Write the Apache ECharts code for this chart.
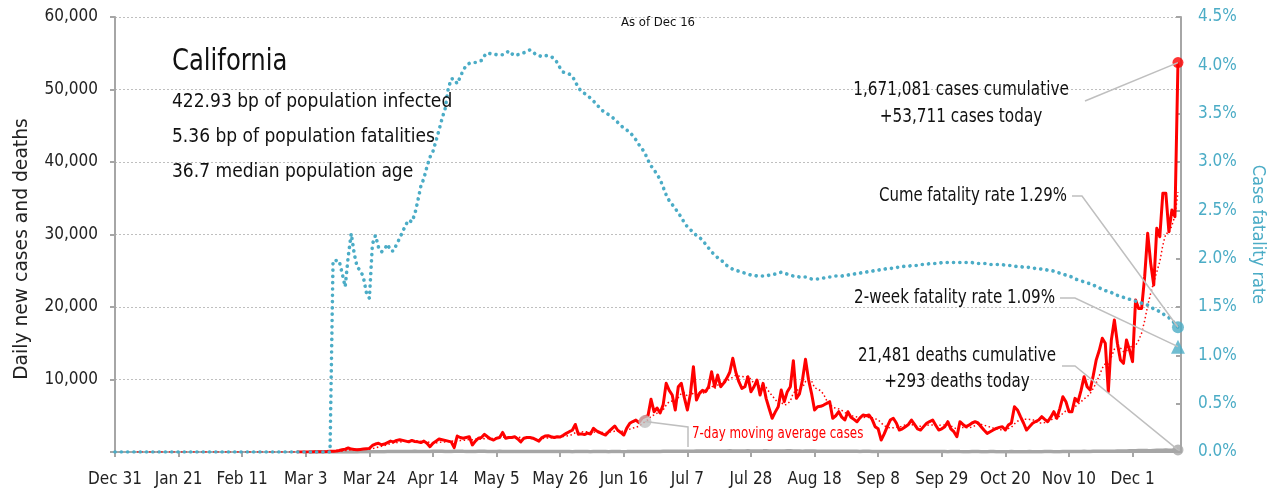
<!DOCTYPE html>
<html>
<head>
<meta charset="utf-8">
<script src="https://cdn.jsdelivr.net/npm/echarts@6/dist/echarts.min.js"></script>
<style>
  html, body { margin: 0; padding: 0; background: #fff; }
  #chart { width: 1276px; height: 493px; }
</style>
</head>
<body>
<div id="chart"></div>
<script>
// x is days since Dec 31 2019, ticks every 3 weeks
const xTickLabels = ['Dec 31', 'Jan 21', 'Feb 11', 'Mar 3', 'Mar 24', 'Apr 14', 'May 5', 'May 26', 'Jun 16',
  'Jul 7', 'Jul 28', 'Aug 18', 'Sep 8', 'Sep 29', 'Oct 20', 'Nov 10', 'Dec 1']

// daily new cases, Dec 31 .. Dec 16 (no reports before Mar 1)
const cases = [
  null, null, null, null, null, null, null, null, null, null,
  null, null, null, null, null, null, null, null, null, null,
  null, null, null, null, null, null, null, null, null, null,
  null, null, null, null, null, null, null, null, null, null,
  null, null, null, null, null, null, null, null, null, null,
  null, null, null, null, null, null, null, null, null, null,
  0, 1, 3, 5, 10, 15, 20, 30, 40, 50,
  60, 90, 120, 150, 200, 300, 400, 550, 400, 350,
  300, 350, 400, 450, 500, 900, 1100, 1200, 1000, 1100,
  1300, 1500, 1400, 1600, 1700, 1600, 1500, 1400, 1600, 1450,
  1400, 1300, 1500, 1200, 730, 1200, 1500, 1800, 1700, 1600,
  1500, 1400, 600, 2200, 2000, 1900, 2000, 2100, 970, 1500,
  1900, 2000, 2440, 2100, 1800, 1650, 1900, 2000, 2700, 1900,
  2000, 2000, 2100, 1800, 1400, 1900, 2000, 2000, 1900, 1700,
  1500, 2000, 2200, 2250, 2100, 2000, 2100, 2070, 2300, 2570,
  2800, 3000, 3800, 2440, 2500, 2400, 2600, 2480, 3270, 2900,
  2700, 2500, 2340, 2800, 3200, 3590, 3000, 2700, 2340, 3300,
  3960, 4200, 4400, 4050, 4650, 4870, 5000, 7270, 5560, 6070,
  5380, 6500, 9470, 8500, 7860, 5800, 9000, 9470, 7500, 5800,
  8000, 11760, 7170, 8090, 8500, 8320, 9000, 11070, 9000, 10620,
  9000, 9500, 10160, 11000, 12920, 11000, 9700, 8780, 9000, 10390,
  8320, 9000, 9930, 7860, 9470, 7400, 6000, 4650, 5500, 6250,
  8550, 6940, 8320, 9000, 12600, 7400, 8000, 9930, 12780, 10000,
  8090, 5800, 6250, 6300, 6480, 6700, 6940, 4650, 5000, 5560,
  4800, 4410, 5560, 4800, 4500, 4180, 4700, 5100, 5000, 5100,
  4500, 3490, 3200, 1650, 2500, 3490, 4410, 4650, 4000, 3030,
  3200, 3490, 3800, 4410, 3800, 3200, 3030, 3500, 3960, 4200,
  4410, 3700, 3030, 3200, 3490, 4180, 3200, 2800, 2110, 4180,
  3800, 3490, 3700, 4000, 4180, 4000, 3490, 3000, 2570, 2800,
  3030, 3260, 3400, 3490, 3030, 3720, 4000, 6250, 5800, 4870,
  4000, 3030, 3500, 3960, 4200, 4410, 4870, 4500, 4180, 4800,
  5560, 4650, 6020, 7630, 6940, 5560, 5560, 7400, 6940, 8500,
  10390, 9000, 8550, 10500, 12690, 14000, 15680, 15000, 8320, 15450,
  18200, 15000, 12690, 12230, 15450, 14070, 12460, 20960, 19810, 19810,
  24180, 30160, 26020, 23030, 30850, 29690, 35680, 35680, 30390, 33370,
  32450, 53711
]

// daily deaths (no reports before Mar 5)
const deaths = [
  null, null, null, null, null, null, null, null, null, null,
  null, null, null, null, null, null, null, null, null, null,
  null, null, null, null, null, null, null, null, null, null,
  null, null, null, null, null, null, null, null, null, null,
  null, null, null, null, null, null, null, null, null, null,
  null, null, null, null, null, null, null, null, null, null,
  null, null, null, null,
  0, 1, 0, 1, 1, 2, 2, 3, 2, 4,
  3, 5, 6, 8, 9, 10, 15, 20, 18, 25,
  30, 25, 35, 40, 45, 50, 55, 60, 60, 70,
  65, 55, 60, 70, 80, 90, 85, 75, 60, 70,
  80, 95, 110, 100, 90, 70, 60, 85, 95, 100,
  110, 90, 80, 70, 75, 85, 95, 100, 90, 80,
  70, 65, 80, 90, 85, 75, 70, 60, 70, 80,
  85, 80, 70, 60, 55, 70, 80, 75, 65, 60,
  55, 60, 70, 75, 65, 60, 55, 50, 60, 70,
  65, 60, 55, 50, 60, 65, 70, 60, 55, 50,
  60, 70, 65, 55, 50, 55, 65, 70, 60, 55,
  60, 70, 80, 75, 65, 70, 80, 90, 100, 95,
  90, 100, 110, 120, 115, 105, 110, 120, 130, 140,
  130, 125, 140, 150, 145, 135, 130, 140, 150, 160,
  150, 140, 135, 145, 155, 160, 150, 140, 145, 155,
  160, 170, 150, 140, 130, 135, 145, 155, 165, 160,
  150, 140, 130, 120, 135, 145, 140, 130, 120, 110,
  100, 110, 120, 115, 105, 100, 95, 100, 110, 105,
  95, 90, 85, 95, 100, 90, 80, 75, 70, 80,
  85, 80, 75, 70, 65, 75, 80, 70, 65, 60,
  65, 70, 75, 65, 60, 55, 60, 65, 70, 60,
  55, 50, 55, 60, 65, 55, 50, 45, 50, 55,
  60, 55, 50, 45, 50, 55, 60, 50, 45, 40,
  45, 50, 55, 50, 45, 40, 45, 50, 55, 50,
  45, 40, 50, 55, 60, 55, 50, 45, 50, 60,
  65, 70, 75, 70, 65, 80, 90, 85, 80, 95,
  100, 110, 100, 95, 90, 110, 120, 130, 125, 140,
  150, 160, 170, 180, 190, 200, 210, 190, 180, 220,
  230, 240, 250, 260, 240, 230, 270, 293
]

// cumulative case fatality rate, %
const cfr = [
  0, 0, 0, 0, 0, 0, 0, 0, 0, 0,
  0, 0, 0, 0, 0, 0, 0, 0, 0, 0,
  0, 0, 0, 0, 0, 0, 0, 0, 0, 0,
  0, 0, 0, 0, 0, 0, 0, 0, 0, 0,
  0, 0, 0, 0, 0, 0, 0, 0, 0, 0,
  0, 0, 0, 0, 0, 0, 0, 0, 0, 0,
  0, 0, 0, 0, 0, 0, 0, 0, 0, 0,
  0, 0,
  1.98, 1.98, 1.98, 1.85, 1.71, 2.02, 2.26, 2.05, 1.91, 1.88,
  1.81, 1.65, 1.59, 2.15, 2.24, 2.12, 2.07, 2.10, 2.15, 2.08,
  2.08, 2.15, 2.21, 2.28, 2.35, 2.40, 2.38, 2.46, 2.60, 2.75,
  2.83, 2.95, 3.05, 3.11, 3.22, 3.33, 3.45, 3.55, 3.75, 3.86,
  3.86, 3.81, 3.88, 3.95, 4.00, 4.02, 4.03, 4.03, 4.04, 4.05,
  4.10, 4.13, 4.12, 4.12, 4.11, 4.11, 4.11, 4.12, 4.15, 4.12,
  4.10, 4.11, 4.12, 4.13, 4.14, 4.16, 4.14, 4.11, 4.10, 4.09,
  4.10, 4.10, 4.09, 4.07, 4.03, 3.97, 3.93, 3.92, 3.91, 3.89,
  3.83, 3.77, 3.73, 3.71, 3.69, 3.66, 3.63, 3.60, 3.56, 3.53,
  3.51, 3.49, 3.47, 3.44, 3.41, 3.38, 3.35, 3.33, 3.31, 3.27,
  3.23, 3.18, 3.14, 3.09, 3.02, 2.96, 2.92, 2.87, 2.82, 2.74,
  2.66, 2.60, 2.56, 2.52, 2.47, 2.43, 2.37, 2.33, 2.30, 2.27,
  2.24, 2.22, 2.19, 2.15, 2.11, 2.07, 2.04, 2.01, 1.99, 1.96,
  1.93, 1.91, 1.89, 1.88, 1.87, 1.86, 1.85, 1.84, 1.83, 1.83,
  1.82, 1.82, 1.82, 1.82, 1.83, 1.84, 1.84, 1.85, 1.86, 1.85,
  1.84, 1.83, 1.82, 1.82, 1.81, 1.81, 1.81, 1.80, 1.79, 1.79,
  1.79, 1.80, 1.80, 1.81, 1.81, 1.81, 1.82, 1.82, 1.82, 1.83,
  1.83, 1.84, 1.84, 1.85, 1.85, 1.86, 1.86, 1.87, 1.87, 1.88,
  1.88, 1.89, 1.89, 1.90, 1.90, 1.90, 1.91, 1.91, 1.92, 1.92,
  1.92, 1.93, 1.93, 1.93, 1.94, 1.94, 1.94, 1.95, 1.95, 1.95,
  1.95, 1.96, 1.96, 1.96, 1.96, 1.96, 1.96, 1.96, 1.96, 1.96,
  1.96, 1.96, 1.95, 1.95, 1.95, 1.95, 1.95, 1.94, 1.94, 1.94,
  1.94, 1.94, 1.93, 1.93, 1.93, 1.92, 1.92, 1.92, 1.91, 1.91,
  1.91, 1.90, 1.90, 1.90, 1.89, 1.89, 1.88, 1.88, 1.87, 1.86,
  1.85, 1.84, 1.83, 1.82, 1.81, 1.79, 1.78, 1.77, 1.76, 1.75,
  1.74, 1.73, 1.71, 1.70, 1.68, 1.67, 1.66, 1.65, 1.63, 1.62,
  1.61, 1.60, 1.59, 1.58, 1.57, 1.56, 1.55, 1.54, 1.53, 1.52,
  1.50, 1.48, 1.47, 1.45, 1.43, 1.41, 1.39, 1.36, 1.33, 1.29
]

const twoWeekRate = 1.09
const maLabelDay = 175

const infoLines = ['422.93 bp of population infected', '5.36 bp of population fatalities', '36.7 median population age']

const FONT = '"Liberation Sans Narrow", "DejaVu Sans Condensed", "Roboto Condensed", "Liberation Sans", sans-serif'
const RED = '#ff0000'
const TEAL = '#4bacc6'
const GRAY = '#a6a6a6'

// 7-day moving average of the daily cases (trendline, spans the whole axis)
const movingAvg = cases.map((v, i) => {
  if (i < 6) return null
  let s = 0
  for (let k = i - 6; k <= i; k++) s += cases[k] || 0
  return s / 7
})

const last = cases.length - 1
const pairs = arr => arr.map((v, i) => [i, v])

let myChart = echarts.init(document.getElementById('chart'))

let option = {
  animation: false,
  textStyle: { fontFamily: FONT },
  grid: { left: 115, right: 95, top: 17, bottom: 41 },
  xAxis: {
    type: 'value',
    min: 0,
    max: 352,
    interval: 21,
    axisLine: { lineStyle: { color: GRAY, width: 2 } },
    axisTick: { length: 5, lineStyle: { color: GRAY, width: 2 } },
    axisLabel: {
      fontFamily: FONT, fontSize: 17, color: '#222', margin: 19,
      showMaxLabel: false,
      formatter: v => xTickLabels[v / 21] || ''
    },
    splitLine: { show: false }
  },
  yAxis: [
    {
      type: 'value',
      min: 0,
      max: 60000,
      interval: 10000,
      axisLine: { show: true, lineStyle: { color: GRAY, width: 2 } },
      axisTick: { show: true, length: 5, lineStyle: { color: GRAY, width: 2 } },
      axisLabel: {
        fontFamily: FONT, fontSize: 17, color: '#222', margin: 17,
        formatter: v => (v === 0 ? '' : v.toLocaleString('en-US'))
      },
      splitLine: { lineStyle: { color: '#bfbfbf', type: [2, 2], width: 1 } }
    },
    {
      type: 'value',
      min: 0,
      max: 4.5,
      interval: 0.5,
      position: 'right',
      name: 'Case fatality rate',
      nameLocation: 'middle',
      nameGap: 68,
      nameRotate: -90,
      nameTextStyle: { fontFamily: FONT, fontSize: 18, color: TEAL },
      axisLine: { show: true, lineStyle: { color: GRAY, width: 2 } },
      axisTick: { show: true, inside: true, length: 5, lineStyle: { color: GRAY, width: 2 } },
      axisLabel: {
        fontFamily: FONT, fontSize: 17, color: TEAL, margin: 17,
        formatter: v => v.toFixed(1) + '%'
      },
      splitLine: { show: false }
    }
  ],
  series: [
    {
      name: 'Daily deaths',
      type: 'line',
      data: pairs(deaths),
      showSymbol: false,
      lineStyle: { color: GRAY, width: 3.5 },
      z: 2
    },
    {
      name: 'Daily cases',
      type: 'line',
      data: pairs(cases),
      showSymbol: false,
      lineStyle: { color: RED, width: 3, join: 'round' },
      z: 3
    },
    {
      name: '7-day moving average cases',
      type: 'line',
      data: pairs(movingAvg),
      showSymbol: false,
      lineStyle: { color: RED, width: 1.5, type: [1.5, 2.5] },
      z: 4
    },
    {
      name: 'Case fatality rate',
      type: 'line',
      yAxisIndex: 1,
      data: pairs(cfr),
      showSymbol: false,
      lineStyle: { color: TEAL, width: 3.6, type: [0.1, 6.2], cap: 'round' },
      z: 5
    },
    {
      type: 'scatter',
      data: [[last, cases[last]]],
      symbolSize: 11,
      itemStyle: { color: RED },
      z: 6
    },
    {
      type: 'scatter',
      data: [[last, deaths[last]]],
      symbolSize: 11,
      itemStyle: { color: GRAY },
      z: 6
    },
    {
      type: 'scatter',
      data: [[maLabelDay, movingAvg[maLabelDay]]],
      symbolSize: 13,
      itemStyle: { color: '#c0c0c0' },
      z: 6
    },
    {
      type: 'scatter',
      yAxisIndex: 1,
      data: [[last, cfr[last]]],
      symbolSize: 12,
      itemStyle: { color: TEAL },
      z: 6
    },
    {
      type: 'scatter',
      yAxisIndex: 1,
      data: [[last, twoWeekRate]],
      symbol: 'triangle',
      symbolSize: 14,
      itemStyle: { color: TEAL },
      z: 6
    }
  ]
}
myChart.setOption(option)

// annotations and leader lines, anchored on the data points
const px = (axis, pt) => myChart.convertToPixel({ xAxisIndex: 0, yAxisIndex: axis }, pt)
const pCase = px(0, [last, cases[last]])
const pDeath = px(0, [last, deaths[last]])
const pMa = px(0, [maLabelDay, movingAvg[maLabelDay]])
const pCfr = px(1, [last, cfr[last]])
const pTwo = px(1, [last, twoWeekRate])

// the source font is condensed, so squeeze the text horizontally
const txt = (text, x, y, size, sx, align, color, rot) => ({
  type: 'text', x: x, y: y, scaleX: sx, rotation: rot || 0, z: 20, silent: true,
  style: { text: text, fill: color || '#111', font: size + 'px ' + FONT, textAlign: align || 'left', textVerticalAlign: 'middle' }
})
const lead = pts => ({
  type: 'polyline', z: 15, silent: true,
  shape: { points: pts },
  style: { stroke: '#bfbfbf', lineWidth: 1.5, fill: null }
})

myChart.setOption({
  graphic: [
    txt('Daily new cases and deaths', 22, 249, 20, 1.04, 'center', '#222', Math.PI / 2),
    txt('As of Dec 16', 658, 23, 13, 1, 'center'),
    txt('California', 172, 62, 30, 0.9),
    txt(infoLines[0], 172, 102, 20, 0.95),
    txt(infoLines[1], 172, 137, 20, 0.95),
    txt(infoLines[2], 172, 172, 20, 0.95),
    txt('1,671,081 cases cumulative', 961, 90, 20, 0.85, 'center'),
    txt('+53,711 cases today', 961, 117, 20, 0.85, 'center'),
    txt('Cume fatality rate 1.29%', 1067, 196, 20, 0.83, 'right'),
    txt('2-week fatality rate 1.09%', 1055, 298, 20, 0.84, 'right'),
    txt('21,481 deaths cumulative', 957, 356, 20, 0.84, 'center'),
    txt('+293 deaths today', 957, 382, 20, 0.84, 'center'),
    txt('7-day moving average cases', 692, 434, 15, 0.88, 'left', RED),
    lead([[1085, 101], pCase]),
    lead([[1072, 196], [1082, 196], pCfr]),
    lead([[1060, 298], [1075, 298], pTwo]),
    lead([[1062, 366], [1075, 366], pDeath]),
    lead([pMa, [688, 427], [688, 447]])
  ]
})
</script>
</body>
</html>
